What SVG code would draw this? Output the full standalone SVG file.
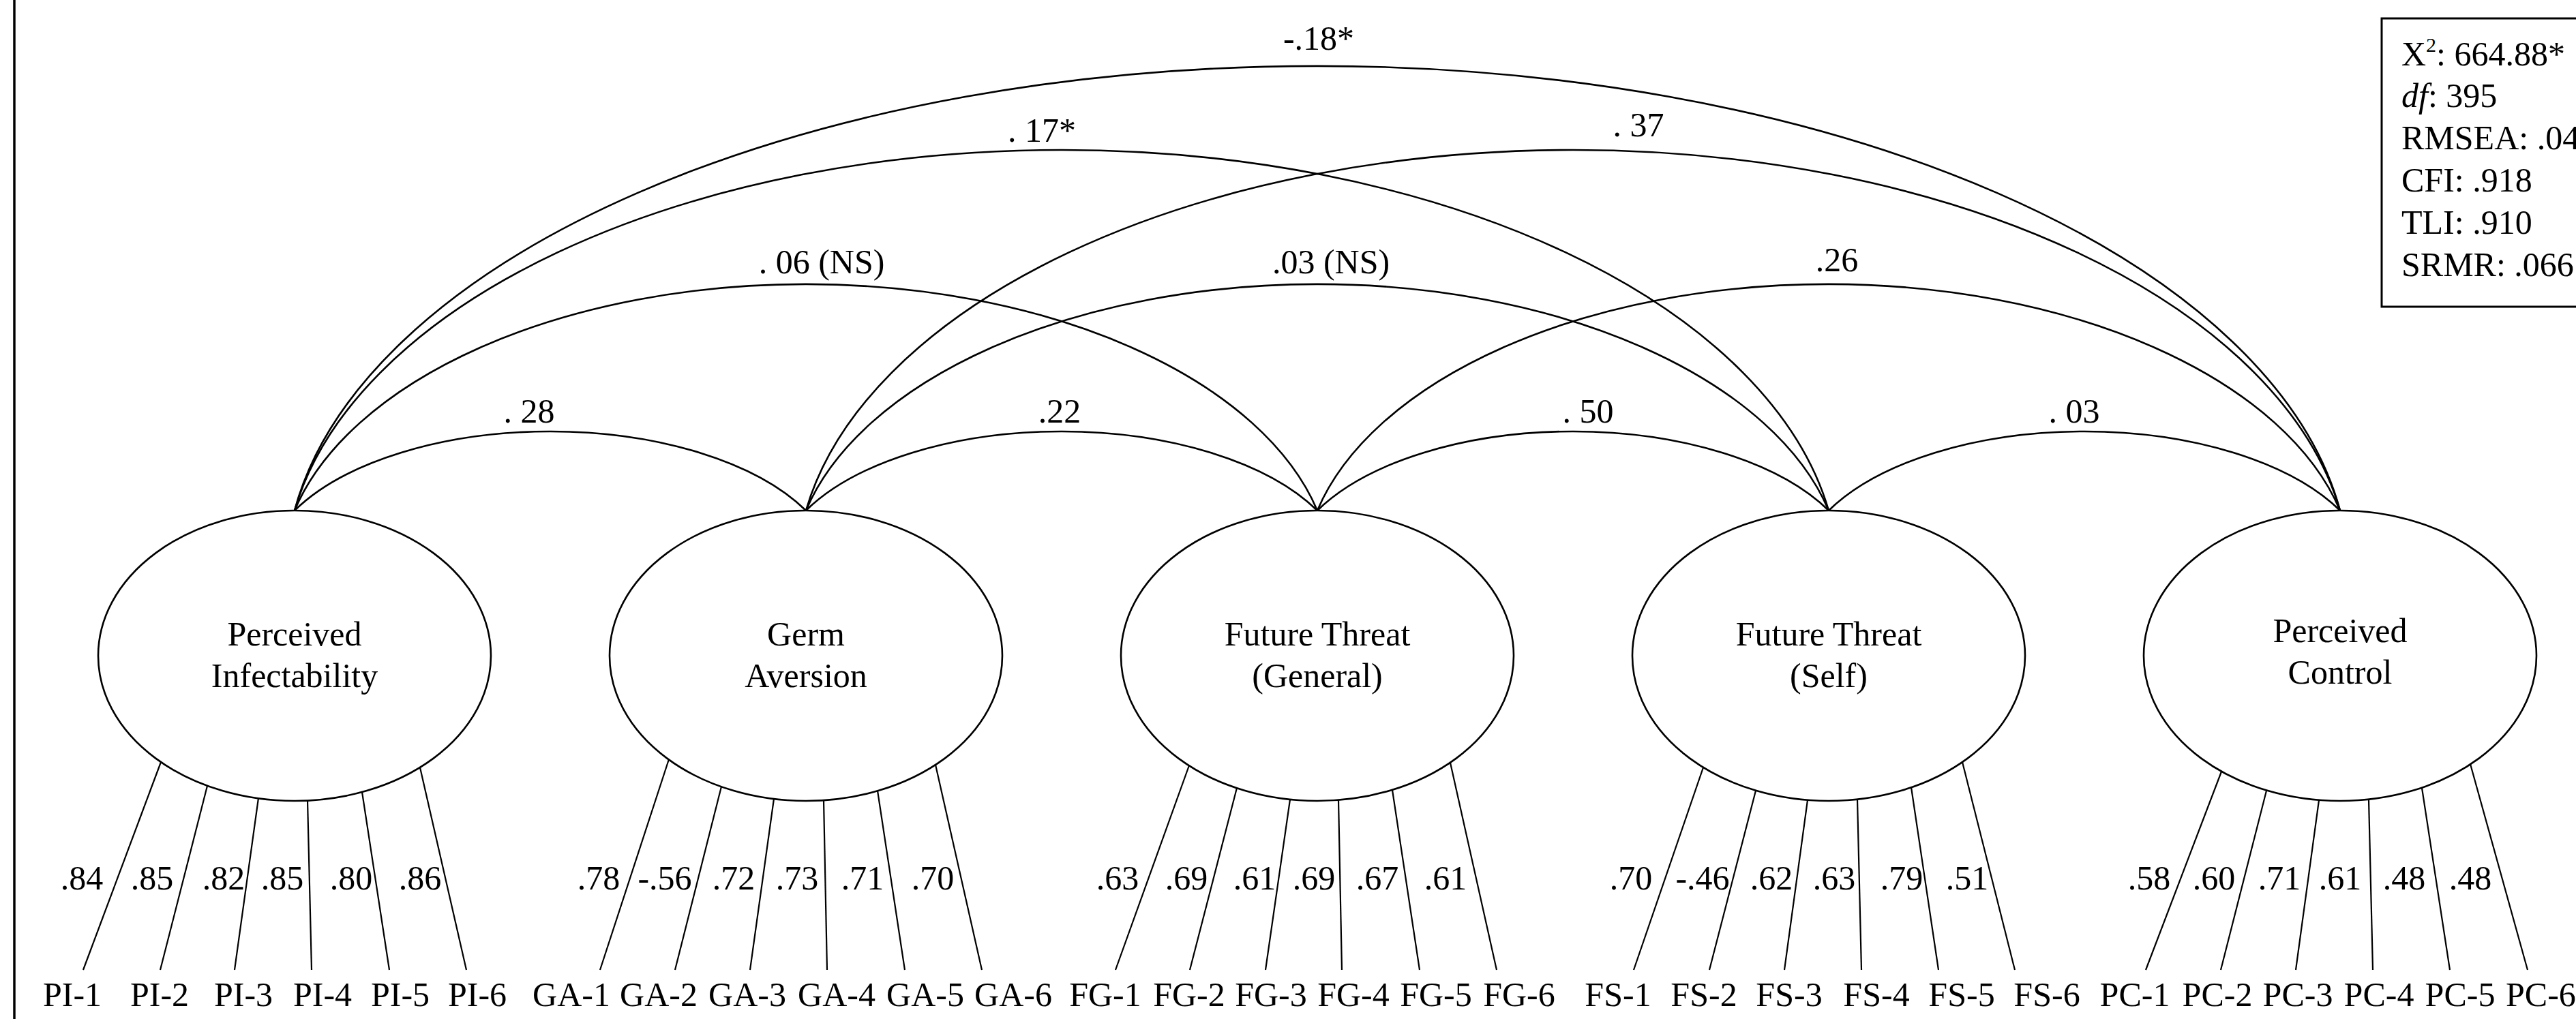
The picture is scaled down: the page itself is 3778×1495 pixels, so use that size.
<svg xmlns="http://www.w3.org/2000/svg" width="3778" height="1495" viewBox="0 0 3778 1495">
<style>
text{font-family:"Liberation Serif","Times New Roman",serif;font-size:50px;fill:#000}
.c{text-anchor:middle}
.lat{fill:#fff;stroke:#000;stroke-width:2.6}
.arc{fill:none;stroke:#000;stroke-width:2.6}
.ld{stroke:#000;stroke-width:2.2}
.box{fill:#fff;stroke:#000;stroke-width:3}
</style>
<rect width="3778" height="1495" fill="#fff"/>
<line x1="21" y1="0" x2="21" y2="1495" stroke="#000" stroke-width="3.5"/>

<g id="connectors">
  <path class="arc" d="M432,749 A1513.4,752 0 0 1 3432,749"/>
  <path class="arc" d="M432,749 A1139.5,629 0 0 1 2682,749"/>
  <path class="arc" d="M1182,749 A1139.5,629 0 0 1 3432,749"/>
  <path class="arc" d="M432,749 A770.9,432 0 0 1 1932,749"/>
  <path class="arc" d="M1182,749 A770.9,432 0 0 1 2682,749"/>
  <path class="arc" d="M1932,749 A770.9,432 0 0 1 3432,749"/>
  <path class="arc" d="M432,749 A423,216 0 0 1 1182,749"/>
  <path class="arc" d="M1182,749 A423,216 0 0 1 1932,749"/>
  <path class="arc" d="M1932,749 A423,216 0 0 1 2682,749"/>
  <path class="arc" d="M2682,749 A423,216 0 0 1 3432,749"/>
  <g id="arc-labels">
    <text class="c" x="1934" y="73">-.18*</text>
    <text class="c" x="1528" y="208">. 17*</text>
    <text class="c" x="2403" y="200">. 37</text>
    <text class="c" x="1205" y="401">. 06 (NS)</text>
    <text class="c" x="1952" y="401">.03 (NS)</text>
    <text class="c" x="2694" y="398">.26</text>
    <text class="c" x="776" y="620">. 28</text>
    <text class="c" x="1554" y="620">.22</text>
    <text class="c" x="2329" y="620">. 50</text>
    <text class="c" x="3042" y="620">. 03</text>
  </g>
  <g id="loadings">
    <line class="ld" x1="236" y1="1118" x2="122" y2="1423"/>
    <line class="ld" x1="304" y1="1153" x2="235" y2="1423"/>
    <line class="ld" x1="379" y1="1171" x2="344" y2="1423"/>
    <line class="ld" x1="451" y1="1174" x2="457" y2="1423"/>
    <line class="ld" x1="531" y1="1162" x2="571" y2="1423"/>
    <line class="ld" x1="616" y1="1126" x2="684" y2="1423"/>

    <line class="ld" x1="981" y1="1114" x2="880" y2="1423"/>
    <line class="ld" x1="1058" y1="1154" x2="990" y2="1423"/>
    <line class="ld" x1="1135" y1="1172" x2="1100" y2="1423"/>
    <line class="ld" x1="1208" y1="1174" x2="1213" y2="1423"/>
    <line class="ld" x1="1287" y1="1160" x2="1327" y2="1423"/>
    <line class="ld" x1="1372" y1="1122" x2="1440" y2="1423"/>

    <line class="ld" x1="1744" y1="1123" x2="1636" y2="1423"/>
    <line class="ld" x1="1814" y1="1156" x2="1745" y2="1423"/>
    <line class="ld" x1="1892" y1="1173" x2="1856" y2="1423"/>
    <line class="ld" x1="1963" y1="1174" x2="1968" y2="1423"/>
    <line class="ld" x1="2042" y1="1159" x2="2082" y2="1423"/>
    <line class="ld" x1="2127" y1="1119" x2="2195" y2="1423"/>

    <line class="ld" x1="2498" y1="1126" x2="2396" y2="1423"/>
    <line class="ld" x1="2575" y1="1160" x2="2507" y2="1423"/>
    <line class="ld" x1="2651" y1="1174" x2="2617" y2="1423"/>
    <line class="ld" x1="2724" y1="1173" x2="2730" y2="1423"/>
    <line class="ld" x1="2803" y1="1155" x2="2843" y2="1423"/>
    <line class="ld" x1="2878" y1="1118" x2="2955" y2="1423"/>

    <line class="ld" x1="3258" y1="1132" x2="3147" y2="1423"/>
    <line class="ld" x1="3324" y1="1160" x2="3257" y2="1423"/>
    <line class="ld" x1="3401" y1="1174" x2="3367" y2="1423"/>
    <line class="ld" x1="3474" y1="1173" x2="3480" y2="1423"/>
    <line class="ld" x1="3552" y1="1156" x2="3593" y2="1423"/>
    <line class="ld" x1="3623" y1="1121" x2="3707" y2="1423"/>
  </g>
  <g id="loading-labels">
    <text class="c" x="120" y="1305">.84</text>
    <text class="c" x="223" y="1305">.85</text>
    <text class="c" x="328" y="1305">.82</text>
    <text class="c" x="414" y="1305">.85</text>
    <text class="c" x="515" y="1305">.80</text>
    <text class="c" x="616" y="1305">.86</text>

    <text class="c" x="878" y="1305">.78</text>
    <text class="c" x="975" y="1305">-.56</text>
    <text class="c" x="1076" y="1305">.72</text>
    <text class="c" x="1169" y="1305">.73</text>
    <text class="c" x="1265" y="1305">.71</text>
    <text class="c" x="1368" y="1305">.70</text>

    <text class="c" x="1639" y="1305">.63</text>
    <text class="c" x="1740" y="1305">.69</text>
    <text class="c" x="1840" y="1305">.61</text>
    <text class="c" x="1927" y="1305">.69</text>
    <text class="c" x="2020" y="1305">.67</text>
    <text class="c" x="2120" y="1305">.61</text>

    <text class="c" x="2392" y="1305">.70</text>
    <text class="c" x="2497" y="1305">-.46</text>
    <text class="c" x="2598" y="1305">.62</text>
    <text class="c" x="2690" y="1305">.63</text>
    <text class="c" x="2789" y="1305">.79</text>
    <text class="c" x="2885" y="1305">.51</text>

    <text class="c" x="3152" y="1305">.58</text>
    <text class="c" x="3247" y="1305">.60</text>
    <text class="c" x="3343" y="1305">.71</text>
    <text class="c" x="3432" y="1305">.61</text>
    <text class="c" x="3526" y="1305">.48</text>
    <text class="c" x="3623" y="1305">.48</text>
  </g>
</g>

<g id="node-PI"><ellipse class="lat" cx="432" cy="962" rx="288" ry="213"/><text class="c" x="432" y="947">Perceived</text><text class="c" x="432" y="1008">Infectability</text></g>
<g id="node-GA"><ellipse class="lat" cx="1182" cy="962" rx="288" ry="213"/><text class="c" x="1182" y="947">Germ</text><text class="c" x="1182" y="1008">Aversion</text></g>
<g id="node-FG"><ellipse class="lat" cx="1932" cy="962" rx="288" ry="213"/><text class="c" x="1932" y="947">Future Threat</text><text class="c" x="1932" y="1008">(General)</text></g>
<g id="node-FS"><ellipse class="lat" cx="2682" cy="962" rx="288" ry="213"/><text class="c" x="2682" y="947">Future Threat</text><text class="c" x="2682" y="1008">(Self)</text></g>
<g id="node-PC"><ellipse class="lat" cx="3432" cy="962" rx="288" ry="213"/><text class="c" x="3432" y="942">Perceived</text><text class="c" x="3432" y="1003">Control</text></g>

<g id="indicators">
  <g id="ind-PI-1"><text class="c" x="106" y="1476">PI-1</text></g>
  <g id="ind-PI-2"><text class="c" x="234" y="1476">PI-2</text></g>
  <g id="ind-PI-3"><text class="c" x="357" y="1476">PI-3</text></g>
  <g id="ind-PI-4"><text class="c" x="473" y="1476">PI-4</text></g>
  <g id="ind-PI-5"><text class="c" x="587" y="1476">PI-5</text></g>
  <g id="ind-PI-6"><text class="c" x="700" y="1476">PI-6</text></g>
  <g id="ind-GA-1"><text class="c" x="838" y="1476">GA-1</text></g>
  <g id="ind-GA-2"><text class="c" x="966" y="1476">GA-2</text></g>
  <g id="ind-GA-3"><text class="c" x="1096" y="1476">GA-3</text></g>
  <g id="ind-GA-4"><text class="c" x="1227" y="1476">GA-4</text></g>
  <g id="ind-GA-5"><text class="c" x="1357" y="1476">GA-5</text></g>
  <g id="ind-GA-6"><text class="c" x="1486" y="1476">GA-6</text></g>
  <g id="ind-FG-1"><text class="c" x="1621" y="1476">FG-1</text></g>
  <g id="ind-FG-2"><text class="c" x="1744" y="1476">FG-2</text></g>
  <g id="ind-FG-3"><text class="c" x="1864" y="1476">FG-3</text></g>
  <g id="ind-FG-4"><text class="c" x="1985" y="1476">FG-4</text></g>
  <g id="ind-FG-5"><text class="c" x="2106" y="1476">FG-5</text></g>
  <g id="ind-FG-6"><text class="c" x="2228" y="1476">FG-6</text></g>
  <g id="ind-FS-1"><text class="c" x="2373" y="1476">FS-1</text></g>
  <g id="ind-FS-2"><text class="c" x="2499" y="1476">FS-2</text></g>
  <g id="ind-FS-3"><text class="c" x="2624" y="1476">FS-3</text></g>
  <g id="ind-FS-4"><text class="c" x="2752" y="1476">FS-4</text></g>
  <g id="ind-FS-5"><text class="c" x="2877" y="1476">FS-5</text></g>
  <g id="ind-FS-6"><text class="c" x="3002" y="1476">FS-6</text></g>
  <g id="ind-PC-1"><text class="c" x="3131" y="1476">PC-1</text></g>
  <g id="ind-PC-2"><text class="c" x="3252" y="1476">PC-2</text></g>
  <g id="ind-PC-3"><text class="c" x="3370" y="1476">PC-3</text></g>
  <g id="ind-PC-4"><text class="c" x="3489" y="1476">PC-4</text></g>
  <g id="ind-PC-5"><text class="c" x="3608" y="1476">PC-5</text></g>
  <g id="ind-PC-6"><text x="3675" y="1476">PC-6</text></g>
</g>

<g id="fit-box">
  <rect class="box" x="3493" y="27" width="400" height="423"/>
  <text x="3522" y="96">X<tspan font-size="30" dy="-20">2</tspan><tspan dy="20">: 664.88*</tspan></text>
  <text x="3522" y="157"><tspan font-style="italic">df</tspan>: 395</text>
  <text x="3522" y="219">RMSEA: .04</text>
  <text x="3522" y="281">CFI: .918</text>
  <text x="3522" y="343">TLI: .910</text>
  <text x="3522" y="405">SRMR: .066</text>
</g>
</svg>
